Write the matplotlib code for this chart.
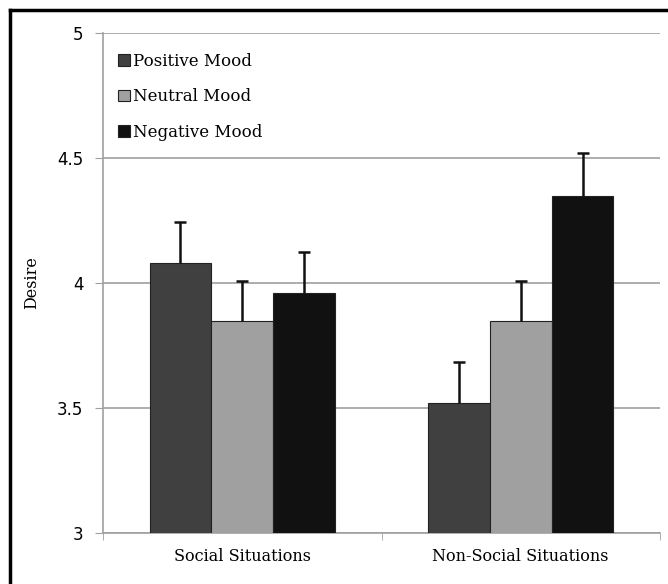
import numpy as np
import matplotlib.pyplot as plt
from matplotlib.lines import Line2D

categories = ['Social Situations', 'Non-Social Situations']
moods = ['Positive Mood', 'Neutral Mood', 'Negative Mood']
positive = [4.08, 3.52]
neutral = [3.85, 3.85]
negative = [3.96, 4.35]
positive_err = [0.165, 0.165]
neutral_err = [0.16, 0.16]
negative_err = [0.165, 0.17]
colors = ['#404040', '#a0a0a0', '#111111']

fig = plt.figure(figsize=(6.68, 5.84), dpi=100)
ax = fig.add_axes([103 / 668, 1 - 533 / 584, (660 - 103) / 668, 500 / 584])

x = np.arange(len(categories))
w = 0.222
series = [positive, neutral, negative]
errs = [positive_err, neutral_err, negative_err]
for i, (vals, err) in enumerate(zip(series, errs)):
    xs = x + (i - 1) * w
    tops = np.array(vals) + np.array(err)
    ax.bar(xs, vals, w, color=colors[i], edgecolor='#222222',
           linewidth=0.8, label=moods[i], zorder=3)
    # upper error bar only
    ax.vlines(xs, vals, tops, color='#111111', linewidth=1.8, zorder=4)
    ax.plot(xs, tops, linestyle='none', marker='_', markersize=8,
            markeredgewidth=1.8, color='#111111', zorder=4)

ax.set_xlim(-0.5, 1.5)
ax.set_ylim(3, 5)
ax.set_yticks([3, 3.5, 4, 4.5, 5])
ax.set_yticklabels(['3', '3.5', '4', '4.5', '5'], family='DejaVu Sans', fontsize=12)
ax.yaxis.grid(True, color='#a0a0a0', linewidth=1.2, zorder=0)
ax.set_axisbelow(True)

ax.set_xticks(x)
ax.set_xticklabels(categories, family='DejaVu Serif', fontsize=11.5)
ax.set_xticks([-0.5, 0.5, 1.5], minor=True)
ax.tick_params(axis='x', which='major', length=0, pad=11)
ax.tick_params(axis='x', which='minor', length=5, color='#a0a0a0')
ax.tick_params(axis='y', length=6, color='#a0a0a0', pad=8)

ax.set_ylabel('Desire', family='DejaVu Serif', fontsize=11.5, labelpad=12)

for s in ['top', 'right']:
    ax.spines[s].set_visible(False)
ax.spines['left'].set_color('#a0a0a0')
ax.spines['bottom'].set_color('#a0a0a0')
ax.spines['left'].set_linewidth(1.2)
ax.spines['bottom'].set_linewidth(1.2)

leg = ax.legend(loc='upper left', bbox_to_anchor=(0.0, 0.99), frameon=False,
                prop={'family': 'DejaVu Serif', 'size': 12},
                handlelength=0.7, handleheight=0.7, handletextpad=0.2,
                labelspacing=1.1)

# black frame (top and left edges visible)
fig.add_artist(Line2D([10 / 668, 10 / 668], [0, 1 - 10 / 584], color='black', linewidth=2.5))
fig.add_artist(Line2D([10 / 668, 1], [1 - 10 / 584, 1 - 10 / 584], color='black', linewidth=2.5))

fig.savefig('out.png', dpi=100)
